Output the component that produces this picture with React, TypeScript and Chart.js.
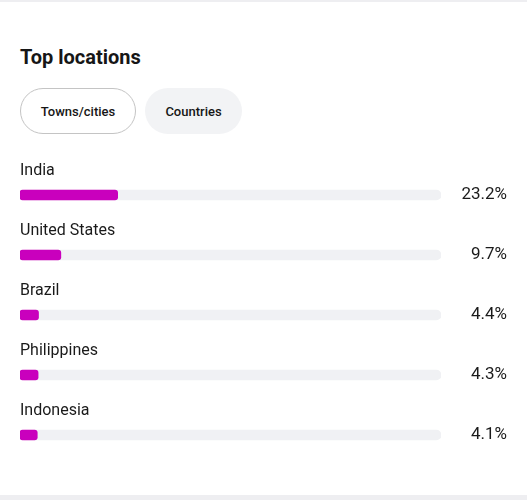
import React, { useEffect, useRef } from "react";
import { Chart, registerables } from "chart.js";

Chart.register(...registerables);

const countries = ["India", "United States", "Brazil", "Philippines", "Indonesia"];
const shares = [23.2, 9.7, 4.4, 4.3, 4.1];
const shareLabels = ["23.2%", "9.7%", "4.4%", "4.3%", "4.1%"];
const scaleMax = 100;
const trackValues = countries.map(() => scaleMax);

const FONT = "Roboto, 'Noto Sans', sans-serif";

const labelPlugin = {
  id: "rowLabels",
  afterDatasetsDraw(chart: any) {
    const { ctx, scales } = chart;
    const y = scales.y;
    ctx.save();
    countries.forEach((name, i) => {
      const cy = y.getPixelForValue(i);
      ctx.font = `400 16px ${FONT}`;
      ctx.fillStyle = "#1a1a1a";
      ctx.textAlign = "left";
      ctx.textBaseline = "middle";
      ctx.fillText(name, 20, cy - 24);
      ctx.font = `400 17px ${FONT}`;
      ctx.textAlign = "right";
      ctx.fillText(shareLabels[i], 507, cy);
    });
    ctx.restore();
  },
};

export default function App() {
  const canvasRef = useRef<HTMLCanvasElement | null>(null);

  useEffect(() => {
    if (!canvasRef.current) return;
    const chart = new Chart(canvasRef.current, {
      type: "bar",
      data: {
        labels: countries,
        datasets: [
          {
            label: "Share",
            data: shares,
            backgroundColor: "#c900bd",
            borderRadius: 3,
            borderSkipped: false,
            barThickness: 10,
            grouped: false,
            order: 0,
          } as any,
          {
            label: "Track",
            data: trackValues,
            backgroundColor: "#f0f1f4",
            borderRadius: 5,
            borderSkipped: false,
            barThickness: 10,
            grouped: false,
            order: 1,
          } as any,
        ],
      },
      options: {
        indexAxis: "y",
        animation: false,
        responsive: true,
        maintainAspectRatio: false,
        layout: { padding: { left: 20, right: 86, top: 25, bottom: 15 } },
        scales: {
          x: { display: false, min: 0, max: scaleMax },
          y: { display: false },
        },
        plugins: {
          legend: { display: false },
          tooltip: { enabled: false },
        },
      },
      plugins: [labelPlugin],
    });
    return () => chart.destroy();
  }, []);

  return (
    <div
      style={{
        position: "fixed",
        left: 0,
        top: 0,
        width: 527,
        height: 500,
        background: "#ffffff",
        fontFamily: FONT,
        overflow: "hidden",
      }}
    >
      <div style={{ position: "absolute", left: 0, top: 0, width: 527, height: 2, background: "#eeeef1" }} />
      <div style={{ position: "absolute", left: 0, top: 495, width: 527, height: 5, background: "#eeeef1" }} />
      <div
        style={{
          position: "absolute",
          left: 20,
          top: 44,
          fontSize: 20,
          fontWeight: 700,
          color: "#161616",
          lineHeight: "26px",
        }}
      >
        Top locations
      </div>
      <div
        style={{
          position: "absolute",
          left: 20,
          top: 88,
          width: 116,
          height: 46,
          boxSizing: "border-box",
          border: "1px solid #c4c4c4",
          borderRadius: 23,
          display: "flex",
          alignItems: "center",
          justifyContent: "center",
          fontSize: 13,
          fontWeight: 500,
          color: "#161616",
        }}
      >
        Towns/cities
      </div>
      <div
        style={{
          position: "absolute",
          left: 145,
          top: 88,
          width: 97,
          height: 46,
          boxSizing: "border-box",
          background: "#f2f3f5",
          borderRadius: 23,
          display: "flex",
          alignItems: "center",
          justifyContent: "center",
          fontSize: 13,
          fontWeight: 500,
          color: "#161616",
        }}
      >
        Countries
      </div>
      <div style={{ position: "absolute", left: 0, top: 140, width: 527, height: 340 }}>
        <canvas ref={canvasRef} />
      </div>
    </div>
  );
}
